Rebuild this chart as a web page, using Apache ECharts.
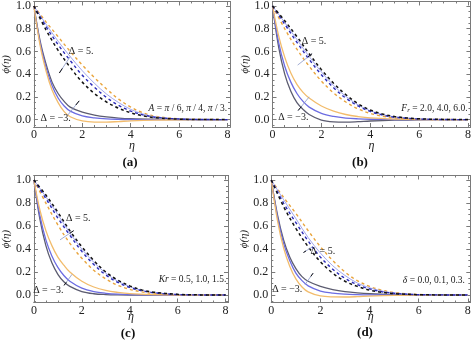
<!DOCTYPE html>
<html><head><meta charset="utf-8">
<script src="https://cdn.jsdelivr.net/npm/echarts@6/dist/echarts.min.js"></script>
<style>html,body{margin:0;padding:0;background:#fff}#c{width:474px;height:342px}</style>
</head><body><div id="c"></div>
<script>
// shared eta samples
const X  = [0,0.5,1,1.5,2,2.5,3,3.5,4,4.5,5,6,7,8];           // dashed / thin curves
const XS = [0,0.25,0.5,0.75,1,1.25,1.5,2,2.5,3,3.5,4,5,6,8];   // solid curves

// tick labels
const xMajor = [0,2,4,6,8];
const xMinor = [0.5,1,1.5,2.5,3,3.5,4.5,5,5.5,6.5,7,7.5];
const yMajor = [0,0.2,0.4,0.6,0.8,1.0];
const yMinor = [-0.05,0.05,0.1,0.15,0.25,0.3,0.35,0.45,0.5,0.55,0.65,0.7,0.75,0.85,0.9,0.95];

// panel (a)
const aOrangeD = [1,0.86,0.73,0.6,0.48,0.37,0.27,0.18,0.11,0.06,0.03,0.007,0.002,0];
const aThinB   = [1,0.84,0.69,0.555,0.43,0.32,0.225,0.15,0.09,0.05,0.025,0.006,0.001,0];
const aBlueD   = [1,0.82,0.66,0.52,0.39,0.285,0.195,0.125,0.075,0.042,0.021,0.005,0.001,0];
const aBlackD  = [1,0.79,0.61,0.46,0.33,0.23,0.155,0.1,0.06,0.033,0.017,0.004,0.001,0];
const aGrayS   = [1,0.7,0.49,0.33,0.23,0.16,0.11,0.065,0.04,0.024,0.014,0.008,0.003,0.001,0];
const aBlueS   = [1,0.68,0.46,0.3,0.19,0.12,0.075,0.033,0.016,0.007,0.003,0.001,0,0,0];
const aOrangeS = [1,0.66,0.43,0.26,0.15,0.07,0.025,-0.012,-0.022,-0.022,-0.017,-0.011,-0.004,-0.001,0];

// panel (b)
const bBlackD  = [1,0.87,0.73,0.58,0.44,0.32,0.22,0.14,0.085,0.05,0.027,0.007,0.002,0];
const bThinB   = [1,0.855,0.705,0.555,0.42,0.3,0.205,0.13,0.078,0.045,0.024,0.006,0.001,0];
const bBlueD   = [1,0.84,0.68,0.53,0.395,0.28,0.19,0.12,0.072,0.04,0.021,0.005,0.001,0];
const bOrangeD = [1,0.8,0.62,0.47,0.34,0.235,0.155,0.095,0.055,0.03,0.015,0.003,0.001,0];
const bGrayS   = [1,0.64,0.4,0.25,0.15,0.09,0.045,-0.005,-0.02,-0.022,-0.018,-0.012,-0.005,-0.001,0];
const bBlueS   = [1,0.68,0.47,0.33,0.23,0.16,0.11,0.055,0.028,0.014,0.007,0.003,0.001,0,0];
const bOrangeS = [1,0.74,0.55,0.41,0.31,0.24,0.19,0.12,0.075,0.045,0.027,0.015,0.005,0.001,0];

// panel (c)
const cBlackD  = [1,0.87,0.72,0.56,0.42,0.3,0.2,0.13,0.08,0.045,0.025,0.006,0.001,0];
const cThinB   = [1,0.855,0.7,0.54,0.4,0.285,0.19,0.12,0.073,0.041,0.022,0.005,0.001,0];
const cBlueD   = [1,0.84,0.67,0.52,0.38,0.265,0.175,0.11,0.066,0.037,0.02,0.004,0.001,0];
const cOrangeD = [1,0.8,0.61,0.45,0.32,0.215,0.14,0.085,0.05,0.027,0.014,0.003,0.001,0];
const cGrayS   = [1,0.66,0.43,0.28,0.18,0.115,0.075,0.03,0.011,0.004,0.001,0,0,0,0];
const cBlueS   = [1,0.69,0.48,0.34,0.24,0.17,0.12,0.06,0.03,0.015,0.007,0.003,0.001,0,0];
const cOrangeS = [1,0.74,0.56,0.43,0.33,0.26,0.2,0.12,0.07,0.04,0.023,0.012,0.004,0.001,0];

// panel (d)
const dOrangeD = [1,0.85,0.71,0.56,0.42,0.3,0.2,0.125,0.075,0.042,0.022,0.005,0.001,0];
const dThinB   = [1,0.83,0.665,0.5,0.365,0.255,0.17,0.105,0.063,0.035,0.018,0.004,0.001,0];
const dBlueD   = [1,0.8,0.63,0.47,0.33,0.225,0.145,0.09,0.053,0.029,0.015,0.003,0.001,0];
const dBlackD  = [1,0.77,0.58,0.42,0.29,0.19,0.12,0.075,0.043,0.024,0.012,0.003,0.001,0];
const dGrayS   = [1,0.7,0.48,0.33,0.23,0.16,0.12,0.075,0.047,0.029,0.018,0.011,0.004,0.001,0];
const dBlueS   = [1,0.68,0.45,0.3,0.19,0.125,0.08,0.035,0.016,0.007,0.003,0.001,0,0,0];
const dOrangeS = [1,0.65,0.41,0.25,0.14,0.07,0.028,-0.008,-0.016,-0.017,-0.014,-0.009,-0.003,-0.001,0];

const STY = {
  orangeD:{color:'#E9A43C', type:[3,3], width:1.4},
  thinB:  {color:'#8C90EA', type:'solid', width:0.8},
  blueD:  {color:'#2A2AB8', type:[3,3], width:1.4},
  blackD: {color:'#111111', type:[3,3], width:1.5},
  grayS:  {color:'#5C5C70', type:'solid', width:1.3},
  blueS:  {color:'#6C6CE2', type:'solid', width:1.3},
  orangeS:{color:'#F2BC6C', type:'solid', width:1.3}
};

const panels = [
  {grid:{left:31, top:0}, nameGap:13, tag:'(a)', tagPos:[130,163],
   dashed:[['orangeD',aOrangeD],['thinB',aThinB],['blueD',aBlueD],['blackD',aBlackD]],
   solid:[['grayS',aGrayS],['blueS',aBlueS],['orangeS',aOrangeS]],
   up:{text:[1.95,0.6], from:[1.5,0.555], to:[1.05,0.41]},
   lo:{text:[0.9,0.012], from:[1.38,0.035], to:[1.87,0.165]},
   formula:{pos:[8.0,0.1], rich:'{i|A} = {i|π} / 6, {i|π} / 4, {i|π} / 3.'}},
  {grid:{left:272.5, top:0}, nameGap:13, tag:'(b)', tagPos:[360,163],
   dashed:[['orangeD',bOrangeD],['thinB',bThinB],['blueD',bBlueD],['blackD',bBlackD]],
   solid:[['grayS',bGrayS],['blueS',bBlueS],['orangeS',bOrangeS]],
   up:{text:[1.7,0.69], from:[1.03,0.48], to:[1.62,0.58]},
   lo:{text:[0.85,0.02], from:[1.5,0.2], to:[1.05,0.08]},
   formula:{pos:[8.0,0.1], rich:'{i|F}{s|r} = 2.0, 4.0, 6.0.'}},
  {grid:{left:29, top:175.5}, nameGap:8, tag:'(c)', tagPos:[128,334],
   dashed:[['orangeD',cOrangeD],['thinB',cThinB],['blueD',cBlueD],['blackD',cBlackD]],
   solid:[['grayS',cGrayS],['blueS',cBlueS],['orangeS',cOrangeS]],
   up:{text:[1.85,0.67], from:[1.09,0.48], to:[1.66,0.56]},
   lo:{text:[0.6,0.04], from:[1.59,0.18], to:[1.26,0.084]},
   formula:{pos:[8.05,0.135], rich:'{i|Kr} = 0.5, 1.0, 1.5.'}},
  {grid:{left:271.3, top:175.5}, nameGap:8, tag:'(d)', tagPos:[365,333],
   dashed:[['orangeD',dOrangeD],['thinB',dThinB],['blueD',dBlueD],['blackD',dBlackD]],
   solid:[['grayS',dGrayS],['blueS',dBlueS],['orangeS',dOrangeS]],
   up:{text:[2.1,0.38], from:[1.68,0.42], to:[1.31,0.37]},
   lo:{text:[0.65,0.05], from:[1.37,0.09], to:[1.7,0.19]},
   formula:{pos:[7.9,0.13], rich:'{i|δ} = 0.0, 0.1, 0.3.'}}
];

const FONT = 'Liberation Serif';
const FRAME = '#7a7a7a';
const grid = [], xAxis = [], yAxis = [], series = [], graphic = [];

function xAx(g, pos, major, labels, name, gap){
  return {type:'value', gridIndex:g, position:pos, min:0, max:8.1,
    name: name||'', nameLocation:'middle', nameGap:gap||13, nameMoveOverlap:false,
    nameTextStyle:{fontFamily:FONT, fontStyle:'italic', fontSize:12, color:'#222'},
    axisLine:{show:true, onZero:false, lineStyle:{color:FRAME, width:1}},
    splitLine:{show:false},
    axisTick:{show:true, inside:true, length: major?4:2, customValues: major?xMajor:xMinor, lineStyle:{color:FRAME}},
    axisLabel:{show:labels, customValues:xMajor, margin:2, fontFamily:FONT, fontSize:12, color:'#222'}};
}
function yAx(g, pos, major, labels, name){
  return {type:'value', gridIndex:g, position:pos, min:-0.065, max:1.04,
    name: name||'', nameLocation:'middle', nameGap:19, nameRotate:90,
    nameTextStyle:{fontFamily:FONT, fontStyle:'italic', fontSize:11, color:'#222'},
    axisLine:{show:true, onZero:false, lineStyle:{color:FRAME, width:1}},
    splitLine:{show:false},
    axisTick:{show:true, inside:true, length: major?4:2, customValues: major?yMajor:yMinor, lineStyle:{color:FRAME}},
    axisLabel:{show:labels, customValues:yMajor, margin:3, fontFamily:FONT, fontSize:12, color:'#222',
      formatter:v=>Number(v).toFixed(1)}};
}

panels.forEach((p,g)=>{
  grid.push({left:p.grid.left, top:p.grid.top, width:199, height:127, containLabel:false});
  const xi = xAxis.length, yi = yAxis.length;
  xAxis.push(xAx(g,'bottom',true,true,'η',p.nameGap), xAx(g,'bottom',false,false), xAx(g,'top',true,false), xAx(g,'top',false,false));
  yAxis.push(yAx(g,'left',true,true,'ϕ(η)'), yAx(g,'left',false,false), yAx(g,'right',true,false), yAx(g,'right',false,false));
  const mk = (key, xs, ys) => ({type:'line', xAxisIndex:xi, yAxisIndex:yi, showSymbol:false, symbol:'none',
    smooth:0.35, animation:false, silent:true, lineStyle:STY[key], data: xs.map((x,i)=>[x, ys[i]])});
  p.solid.forEach(([k,arr])=>series.push(mk(k, XS, arr)));
  p.dashed.forEach(([k,arr])=>series.push(mk(k, X, arr)));
  const tail = (a)=>{ const f=a.from, t=a.to; return [f[0]+(t[0]-f[0])*0.72, f[1]+(t[1]-f[1])*0.72]; };
  series.push({type:'line', xAxisIndex:xi, yAxisIndex:yi, data:[], animation:false, silent:true,
    markLine:{silent:true, animation:false, symbol:['none','none'], label:{show:false},
      lineStyle:{color:'#8a98c8', width:0.8, type:'solid'},
      data:[[{coord:p.up.from},{coord:p.up.to}],[{coord:p.lo.from},{coord:p.lo.to}]]}});
  series.push({type:'line', xAxisIndex:xi, yAxisIndex:yi, data:[], animation:false, silent:true,
    markLine:{silent:true, animation:false, symbol:['none','arrow'], symbolSize:[0,6], label:{show:false},
      lineStyle:{color:'#111', width:1, type:'solid'},
      data:[[{coord:tail(p.up)},{coord:p.up.to}],[{coord:tail(p.lo)},{coord:p.lo.to}]]},
    markPoint:{silent:true, animation:false, symbol:'rect', symbolSize:1, itemStyle:{color:'rgba(0,0,0,0)'},
      data:[
        {name:'Δ = 5.', coord:p.up.text, label:{show:true, position:'inside', formatter:'{b}', fontFamily:FONT, fontSize:10, color:'#222'}},
        {name:'Δ = −3.', coord:p.lo.text, label:{show:true, position:'inside', formatter:'{b}', fontFamily:FONT, fontSize:10, color:'#222'}},
        {name:'f', coord:p.formula.pos, label:{show:true, position:'left', distance:0, formatter:p.formula.rich,
          fontFamily:FONT, fontSize:9.5, color:'#222',
          rich:{i:{fontFamily:FONT, fontStyle:'italic', fontSize:9.5, color:'#222'},
                s:{fontFamily:FONT, fontStyle:'italic', fontSize:7, color:'#222', verticalAlign:'bottom', padding:[4,0,0,0]}}}}
      ]}});
  graphic.push({type:'text', x:p.tagPos[0], y:p.tagPos[1], silent:true,
    style:{text:p.tag, textAlign:'center', textVerticalAlign:'middle', font:'bold 13px "Liberation Serif"', fill:'#111'}});
});

const chart = echarts.init(document.getElementById('c'), null, {renderer:'canvas'});
chart.setOption({animation:false, backgroundColor:'#fff', grid, xAxis, yAxis, series, graphic});
</script>
</body></html>
